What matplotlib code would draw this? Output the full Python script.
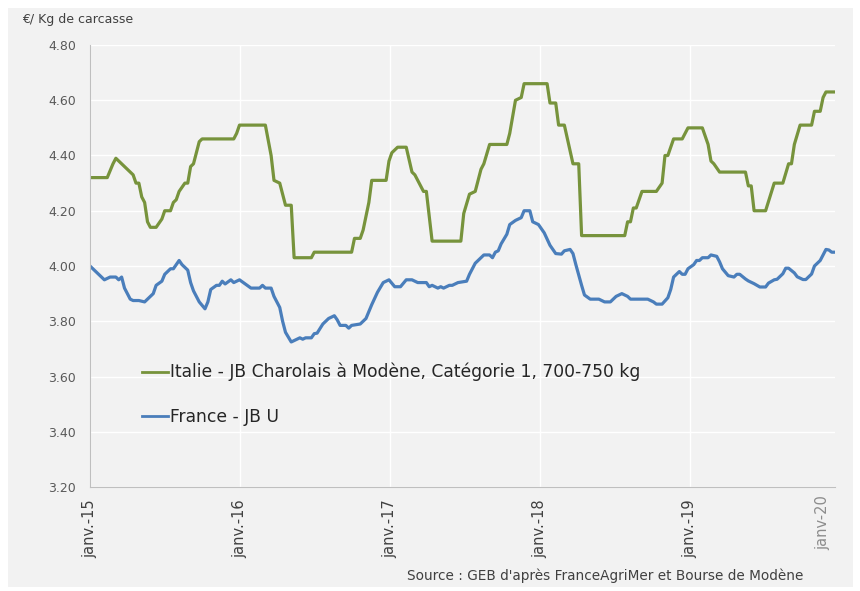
import pandas as pd
import matplotlib
matplotlib.use("Agg")
import matplotlib.pyplot as plt
from matplotlib.patches import Rectangle

# weekly prices, x = weeks since 1 Jan 2015
it_week = [0, 6, 8, 9, 10, 12, 13, 14, 15, 16, 17, 18, 19, 20, 21, 23, 25, 26, 28, 29,
           30, 31, 33, 34, 35, 36, 38, 39, 50, 51, 52, 61, 63, 64, 66, 67, 68, 70, 71, 77,
           78, 91, 92, 94, 95, 97, 98, 103, 104, 105, 107, 110, 112, 113, 115, 116, 117, 119, 129, 130,
           132, 134, 136, 137, 139, 145, 146, 148, 150, 151, 159, 160, 162, 163, 165, 168, 170, 171, 186, 187,
           188, 189, 190, 192, 197, 199, 200, 201, 203, 206, 208, 213, 215, 216, 217, 219, 228, 229, 230, 231,
           235, 238, 241, 243, 244, 245, 247, 251, 252, 254, 255, 256, 259]
it_val = [4.32, 4.32, 4.37, 4.39, 4.38, 4.36, 4.35, 4.34, 4.33, 4.30, 4.30, 4.25, 4.23, 4.16, 4.14, 4.14, 4.17, 4.20, 4.20, 4.23,
          4.24, 4.27, 4.30, 4.30, 4.36, 4.37, 4.45, 4.46, 4.46, 4.48, 4.51, 4.51, 4.40, 4.31, 4.30, 4.26, 4.22, 4.22, 4.03, 4.03,
          4.05, 4.05, 4.10, 4.10, 4.13, 4.23, 4.31, 4.31, 4.38, 4.41, 4.43, 4.43, 4.34, 4.33, 4.29, 4.27, 4.27, 4.09, 4.09, 4.19,
          4.26, 4.27, 4.35, 4.37, 4.44, 4.44, 4.48, 4.60, 4.61, 4.66, 4.66, 4.59, 4.59, 4.51, 4.51, 4.37, 4.37, 4.11, 4.11, 4.16,
          4.16, 4.21, 4.21, 4.27, 4.27, 4.30, 4.40, 4.40, 4.46, 4.46, 4.50, 4.50, 4.44, 4.38, 4.37, 4.34, 4.34, 4.29, 4.29, 4.20,
          4.20, 4.30, 4.30, 4.37, 4.37, 4.44, 4.51, 4.51, 4.56, 4.56, 4.61, 4.63, 4.63]

fr_week = [0, 1, 3, 5, 7, 9, 10, 11, 12, 14, 15, 17, 19, 20, 22, 23, 25, 26, 28, 29,
           31, 32, 34, 35, 36, 38, 40, 41, 42, 44, 45, 46, 47, 49, 50, 52, 54, 56, 59, 60,
           61, 63, 64, 66, 67, 68, 70, 72, 73, 74, 75, 77, 78, 79, 81, 83, 85, 86, 87, 89,
           90, 91, 94, 96, 98, 100, 102, 103, 104, 106, 108, 110, 112, 114, 117, 118, 119, 121, 122, 123,
           125, 126, 128, 131, 132, 134, 135, 137, 139, 140, 141, 142, 143, 145, 146, 148, 150, 151, 153, 154,
           156, 158, 160, 162, 164, 165, 167, 168, 169, 171, 172, 174, 177, 179, 181, 183, 185, 186, 187, 188,
           194, 196, 197, 199, 201, 202, 203, 205, 206, 207, 208, 210, 211, 212, 213, 215, 216, 218, 219, 220,
           222, 224, 225, 226, 228, 229, 231, 233, 235, 236, 238, 239, 241, 242, 243, 245, 246, 248, 249, 251,
           252, 254, 255, 256, 257, 258, 259]
fr_val = [4.00, 3.99, 3.97, 3.95, 3.96, 3.96, 3.95, 3.96, 3.92, 3.88, 3.875, 3.875, 3.87, 3.88, 3.90, 3.93, 3.945, 3.97, 3.99, 3.99,
          4.02, 4.005, 3.985, 3.94, 3.91, 3.87, 3.845, 3.87, 3.915, 3.93, 3.93, 3.945, 3.935, 3.95, 3.94, 3.95, 3.935, 3.92, 3.92, 3.93,
          3.92, 3.92, 3.89, 3.85, 3.80, 3.76, 3.725, 3.735, 3.74, 3.735, 3.74, 3.74, 3.755, 3.757, 3.79, 3.81, 3.82, 3.805, 3.785, 3.785,
          3.775, 3.785, 3.79, 3.81, 3.86, 3.905, 3.94, 3.945, 3.95, 3.925, 3.925, 3.95, 3.95, 3.94, 3.94, 3.925, 3.93, 3.92, 3.925, 3.92,
          3.93, 3.93, 3.94, 3.945, 3.97, 4.01, 4.02, 4.04, 4.04, 4.03, 4.05, 4.055, 4.08, 4.115, 4.15, 4.165, 4.175, 4.20, 4.20, 4.16,
          4.15, 4.12, 4.075, 4.045, 4.043, 4.055, 4.06, 4.045, 4.005, 3.93, 3.895, 3.88, 3.88, 3.87, 3.87, 3.89, 3.90, 3.895, 3.89, 3.88,
          3.88, 3.87, 3.862, 3.862, 3.885, 3.915, 3.96, 3.98, 3.97, 3.97, 3.99, 4.005, 4.02, 4.02, 4.03, 4.03, 4.04, 4.035, 4.015, 3.99,
          3.965, 3.96, 3.97, 3.97, 3.953, 3.946, 3.936, 3.924, 3.924, 3.938, 3.95, 3.952, 3.972, 3.992, 3.992, 3.975, 3.961, 3.951, 3.951, 3.971,
          4.00, 4.02, 4.04, 4.06, 4.058, 4.05, 4.05]

labels = ["Italie - JB Charolais à Modène, Catégorie 1, 700-750 kg", "France - JB U"]
year_labels = ["janv.-15", "janv.-16", "janv.-17", "janv.-18", "janv.-19"]
start = pd.Timestamp("2015-01-01")


def to_dates(weeks):
    return [start + pd.Timedelta(days=7 * w) for w in weeks]


plt.rcParams['font.family'] = ['DejaVu Sans']

fig = plt.figure(figsize=(8.6, 5.91), dpi=100, facecolor="white")
bg = Rectangle((8 / 860, 4 / 591), 845 / 860, 579 / 591, transform=fig.transFigure,
               facecolor="#f2f2f2", edgecolor="none", zorder=-10)
fig.patches.append(bg)
ax = fig.add_axes([90 / 860, 1 - 487 / 591, 745 / 860, 442 / 591])
ax.set_facecolor("#f2f2f2")

ax.plot(to_dates(it_week), it_val, color="#77933c", lw=2.3, label=labels[0], solid_joinstyle="round")
ax.plot(to_dates(fr_week), fr_val, color="#4a7ebb", lw=2.3, label=labels[1], solid_joinstyle="round")

ax.set_ylim(3.2, 4.8)
ax.set_yticks([3.2, 3.4, 3.6, 3.8, 4.0, 4.2, 4.4, 4.6, 4.8])
ax.yaxis.set_major_formatter(plt.FuncFormatter(lambda v, p: "%.2f" % v))
ax.set_xlim(start, start + pd.Timedelta(days=1814))
ticks = [pd.Timestamp("%d-01-01" % y) for y in range(2015, 2020)]
ax.set_xticks(ticks)
ax.set_xticklabels(year_labels, rotation=90, va="top")
ax.tick_params(length=0, colors="#404040")
ax.tick_params(axis="y", labelsize=9, pad=10, labelcolor="#595959")
ax.tick_params(axis="x", labelsize=10.5, pad=9)

ax.grid(True, color="white", lw=1)
ax.set_axisbelow(True)
for s in ["top", "right"]:
    ax.spines[s].set_visible(False)
for s in ["left", "bottom"]:
    ax.spines[s].set_color("#bfbfbf")

ax.text(0.984, -0.018, "janv-20", transform=ax.transAxes, rotation=90, ha="center", va="top",
        fontsize=10.5, color="#8c8c8c")

leg = ax.legend(loc="upper left", bbox_to_anchor=(142 / 860, 1 - 363 / 591), bbox_transform=fig.transFigure,
                frameon=False, fontsize=12.3, handlelength=1.5, handletextpad=0.15, labelspacing=1.55,
                borderpad=0, borderaxespad=0)
for t in leg.get_texts():
    t.set_color("#262626")
for h in leg.get_lines():
    h.set_linewidth(2)

fig.text(22 / 860, 1 - 19 / 591, "€/ Kg de carcasse", fontsize=9, color="#404040", va="center")
fig.text(803 / 860, 1 - 576 / 591, "Source : GEB d'après FranceAgriMer et Bourse de Modène",
         fontsize=9.8, color="#404040", ha="right", va="center")

fig.savefig("out.png", dpi=100, facecolor=fig.get_facecolor())
